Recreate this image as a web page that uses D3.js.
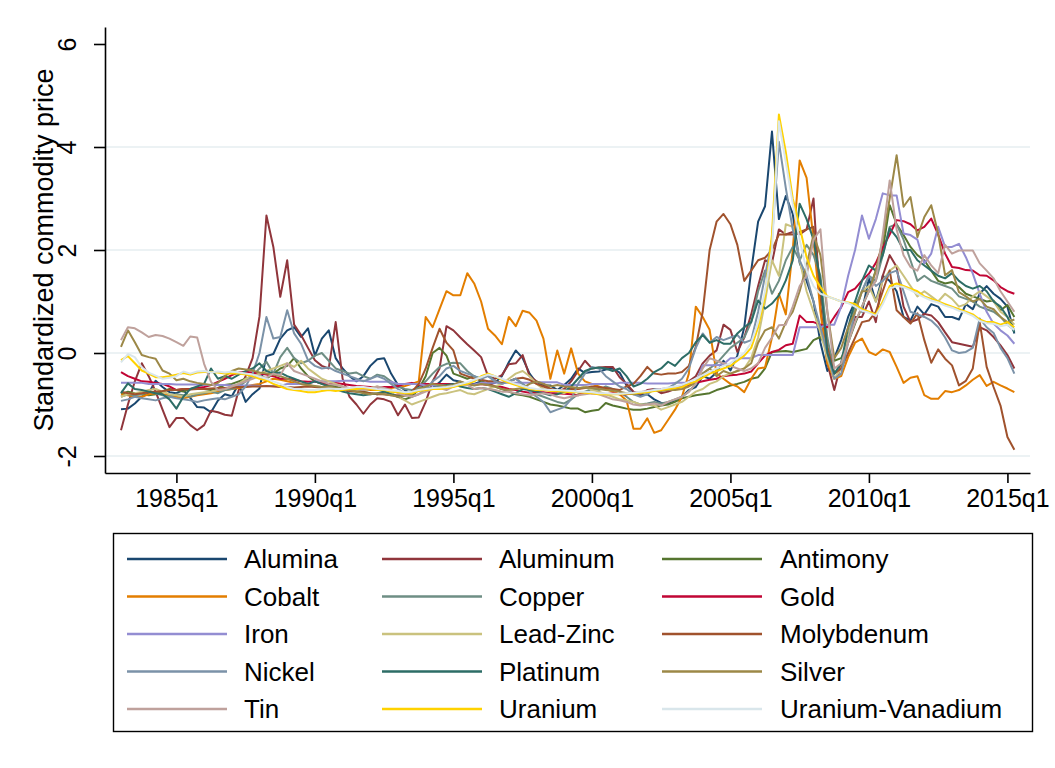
<!DOCTYPE html>
<html>
<head>
<meta charset="utf-8">
<script src="https://cdn.jsdelivr.net/npm/d3@7"></script>
<style>
  body { margin: 0; background: #fff; }
  svg { display: block; }
  text { font-family: "Liberation Sans", Arial, Helvetica, sans-serif; fill: #000; }
</style>
</head>
<body>
<div id="chartArea"></div>
<script>
// quarterly standardized prices, 1983q1 .. 2015q2 (one row = 4 years)
var firstYear = 1983;
var names = ['Alumina','Aluminum','Antimony','Cobalt','Copper','Gold','Iron','Lead-Zinc',
             'Molybdenum','Nickel','Platinum','Silver','Tin','Uranium','Uranium-Vanadium'];
var colors = ['#1a476f','#90353b','#55752f','#e37e00','#6e8e84','#c10534','#938dd2','#cac27e',
              '#a0522d','#7b92a8','#2d6d66','#9c8847','#bfa19c','#ffd200','#d9e6eb'];
var tickLabels = ['1985q1','1990q1','1995q1','2000q1','2005q1','2010q1','2015q1'];
var yTicks = [-2, 0, 2, 4, 6];
var gridTicks = [-2, 0, 2, 4];

var alumina = [
  -1.09,-1.08,-0.98,-0.85, -0.78,-0.54,-0.66,-0.76, -0.78,-0.72,-0.87,-1.05, -1.06,-1.15,-0.92,-0.80,
  -0.84,-0.60,-0.95,-0.80, -0.69,-0.06,-0.02,0.28, 0.44,0.50,0.31,0.48, -0.05,0.28,0.44,-0.10,
  -0.30,-0.45,-0.55,-0.45, -0.25,-0.12,-0.10,-0.40, -0.62,-0.72,-0.80,-0.62, -0.69,-0.68,-0.57,-0.42,
  -0.53,-0.56,-0.60,-0.60, -0.55,-0.60,-0.58,-0.45, -0.18,0.05,-0.10,-0.40, -0.58,-0.63,-0.63,-0.72,
  -0.62,-0.50,-0.30,-0.39, -0.37,-0.36,-0.32,-0.30, -0.38,-0.63,-0.76,-0.82, -0.80,-0.90,-0.97,-0.97,
  -0.92,-0.85,-0.72,-0.66, -0.45,-0.50,-0.38,-0.15, -0.34,-0.05,0.50,1.60, 2.55,2.85,4.30,2.60,
  3.05,2.70,1.75,1.40, 1.00,0.20,-0.35,-0.10, 0.25,0.70,1.00,0.80, 1.45,1.00,1.50,1.40,
  1.20,0.70,0.63,0.90, 0.75,0.95,0.90,0.70, 0.70,0.65,0.95,0.85, 1.15,1.30,1.15,1.05,
  0.90,0.38];
var aluminum = [
  -1.50,-1.00,-0.55,-0.20, -0.45,-0.75,-1.10,-1.44, -1.26,-1.26,-1.40,-1.50, -1.40,-1.12,-1.15,-1.20,
  -1.22,-0.72,-0.45,-0.10, 0.71,2.67,2.06,1.09, 1.80,0.55,0.35,0.10, -0.14,-0.25,-0.30,0.60,
  -0.50,-0.85,-1.00,-1.18, -1.00,-0.88,-0.90,-0.95, -1.21,-1.00,-1.26,-1.25, -0.95,-0.55,-0.30,0.52,
  0.44,0.30,0.17,0.05, -0.08,-0.45,-0.50,-0.43, -0.22,-0.20,-0.04,-0.45, -0.55,-0.60,-0.70,-0.75,
  -0.70,-0.55,-0.35,-0.15, -0.30,-0.28,-0.27,-0.27, -0.47,-0.60,-0.75,-0.80, -0.72,-0.70,-0.78,-0.75,
  -0.70,-0.65,-0.55,-0.45, -0.20,-0.05,0.05,0.55, 0.45,0.02,0.30,0.75, 1.30,1.80,1.75,2.40,
  2.30,2.35,2.30,2.40, 3.00,0.90,-0.20,-0.72, -0.20,0.30,0.70,0.70, 1.00,0.60,1.50,1.90,
  1.67,0.90,0.60,0.65, 0.76,0.73,0.60,0.40, 0.21,0.18,0.15,0.12, 0.50,0.44,0.31,0.15,
  -0.04,-0.30];
var antimony = [
  -0.80,-0.75,-0.78,-0.80, -0.82,-0.80,-0.75,-0.70, -0.72,-0.75,-0.70,-0.68, -0.70,-0.72,-0.68,-0.62,
  -0.60,-0.55,-0.50,-0.45, -0.45,-0.50,-0.40,-0.30, -0.25,-0.10,-0.30,-0.45, -0.55,-0.60,-0.62,-0.65,
  -0.70,-0.68,-0.72,-0.75, -0.78,-0.80,-0.75,-0.78, -0.85,-0.90,-0.85,-0.70, -0.45,0.00,0.10,-0.05,
  -0.40,-0.45,-0.50,-0.45, -0.55,-0.60,-0.65,-0.70, -0.75,-0.80,-0.82,-0.85, -0.90,-0.95,-1.00,-1.02,
  -1.05,-1.08,-1.08,-1.15, -1.12,-1.10,-0.97,-1.02, -1.05,-1.08,-1.10,-1.10, -1.08,-1.05,-1.02,-1.00,
  -0.95,-0.88,-0.85,-0.82, -0.80,-0.78,-0.72,-0.68, -0.63,-0.60,-0.56,-0.50, -0.47,-0.30,0.02,0.03,
  0.04,0.02,0.05,0.08, 0.25,0.31,0.10,-0.15, -0.10,0.20,0.57,0.90, 1.20,1.60,2.00,2.87,
  2.50,2.29,2.06,1.90, 1.80,1.60,1.40,1.35, 1.38,1.28,1.15,1.10, 1.05,1.00,1.02,0.83,
  0.93,0.70];
var cobalt = [
  -0.80,-0.82,-0.85,-0.85, -0.80,-0.78,-0.80,-0.82, -0.85,-0.88,-0.85,-0.82, -0.80,-0.78,-0.75,-0.72,
  -0.70,-0.68,-0.65,-0.62, -0.60,-0.55,-0.50,-0.52, -0.55,-0.58,-0.60,-0.62, -0.65,-0.66,-0.68,-0.70,
  -0.72,-0.70,-0.68,-0.70, -0.72,-0.72,-0.70,-0.68, -0.66,-0.64,-0.60,-0.55, 0.70,0.50,0.85,1.20,
  1.12,1.12,1.55,1.35, 1.00,0.47,0.34,0.17, 0.70,0.52,0.82,0.78, 0.63,0.28,-0.50,0.05,
  -0.40,0.09,-0.40,-0.55, -0.60,-0.65,-0.70,-0.75, -0.80,-0.92,-1.47,-1.47, -1.27,-1.55,-1.50,-1.30,
  -1.10,-0.85,-0.40,0.90, 0.70,0.45,-0.40,-0.50, -0.60,-0.65,-0.76,-0.50, -0.30,-0.28,0.30,1.15,
  0.75,2.00,3.74,3.40, 2.20,0.80,-0.20,-0.50, -0.45,-0.08,0.20,0.28, 0.02,-0.04,0.07,0.02,
  -0.27,-0.58,-0.48,-0.45, -0.82,-0.89,-0.89,-0.74, -0.76,-0.72,-0.63,-0.52, -0.43,-0.64,-0.56,-0.63,
  -0.69,-0.76];
var copper = [
  -0.85,-0.80,-0.82,-0.80, -0.75,-0.78,-0.82,-0.85, -0.80,-0.82,-0.85,-0.80, -0.78,-0.75,-0.78,-0.72,
  -0.70,-0.65,-0.55,-0.45, -0.30,-0.17,-0.40,-0.08, 0.10,-0.10,-0.20,-0.15, -0.05,0.00,-0.15,-0.30,
  -0.35,-0.40,-0.38,-0.45, -0.50,-0.42,-0.45,-0.55, -0.65,-0.70,-0.72,-0.68, -0.55,-0.40,-0.27,-0.21,
  -0.19,-0.20,-0.35,-0.45, -0.50,-0.42,-0.55,-0.60, -0.55,-0.50,-0.60,-0.70, -0.80,-0.85,-0.90,-0.95,
  -0.98,-0.90,-0.80,-0.75, -0.70,-0.72,-0.65,-0.70, -0.75,-0.85,-0.95,-1.00, -0.98,-0.95,-0.98,-0.95,
  -0.90,-0.85,-0.75,-0.60, -0.40,-0.30,-0.20,-0.05, 0.10,0.20,0.30,0.60, 1.20,1.60,1.15,1.40,
  1.80,2.06,1.80,2.10, 1.90,1.50,0.30,-0.40, -0.30,0.30,0.90,1.20, 1.50,1.40,1.90,2.45,
  2.50,2.20,1.80,1.40, 1.50,1.40,1.35,1.30, 1.25,1.10,1.05,1.00, 0.90,0.85,0.80,0.70,
  0.55,0.45];
var gold = [
  -0.37,-0.45,-0.50,-0.55, -0.56,-0.58,-0.60,-0.65, -0.72,-0.70,-0.70,-0.68, -0.66,-0.62,-0.56,-0.50,
  -0.43,-0.38,-0.37,-0.38, -0.40,-0.42,-0.45,-0.50, -0.50,-0.52,-0.55,-0.56, -0.56,-0.58,-0.60,-0.58,
  -0.60,-0.62,-0.64,-0.65, -0.66,-0.68,-0.66,-0.66, -0.64,-0.60,-0.58,-0.62, -0.60,-0.60,-0.60,-0.60,
  -0.60,-0.60,-0.60,-0.62, -0.60,-0.62,-0.64,-0.66, -0.70,-0.72,-0.75,-0.77, -0.76,-0.76,-0.78,-0.78,
  -0.79,-0.80,-0.82,-0.76, -0.78,-0.78,-0.80,-0.78, -0.80,-0.80,-0.78,-0.76, -0.74,-0.72,-0.70,-0.69,
  -0.68,-0.66,-0.62,-0.58, -0.55,-0.52,-0.50,-0.45, -0.43,-0.42,-0.40,-0.36, -0.20,-0.05,0.02,0.06,
  0.15,0.18,0.73,0.60, 0.60,0.55,0.50,0.70, 0.89,1.18,1.25,1.41, 1.54,1.75,2.05,2.30,
  2.58,2.56,2.50,2.38, 2.45,2.61,2.30,1.93, 1.67,1.65,1.61,1.60, 1.51,1.50,1.41,1.28,
  1.20,1.15];
var iron = [
  -0.58,-0.58,-0.58,-0.58, -0.60,-0.60,-0.60,-0.60, -0.61,-0.61,-0.61,-0.61, -0.62,-0.62,-0.62,-0.62,
  -0.63,-0.63,-0.63,-0.63, -0.64,-0.64,-0.64,-0.64, -0.60,-0.60,-0.60,-0.60, -0.55,-0.55,-0.55,-0.55,
  -0.54,-0.54,-0.54,-0.54, -0.56,-0.56,-0.56,-0.56, -0.60,-0.60,-0.60,-0.60, -0.63,-0.63,-0.63,-0.63,
  -0.61,-0.61,-0.61,-0.61, -0.58,-0.58,-0.58,-0.58, -0.58,-0.58,-0.58,-0.58, -0.57,-0.57,-0.57,-0.57,
  -0.62,-0.62,-0.62,-0.62, -0.60,-0.60,-0.60,-0.60, -0.58,-0.58,-0.58,-0.58, -0.59,-0.59,-0.59,-0.59,
  -0.58,-0.58,-0.58,-0.58, -0.24,-0.24,-0.24,-0.22, -0.10,-0.10,-0.10,-0.10, -0.04,-0.04,-0.04,-0.04,
  -0.04,-0.04,0.50,0.50, 0.50,0.50,0.55,0.55, 0.90,1.50,2.00,2.67, 2.22,2.60,3.10,3.06,
  3.06,2.32,2.29,2.20, 1.74,1.93,2.45,2.06, 2.06,2.12,1.86,1.54, 1.15,0.80,0.57,0.44,
  0.34,0.18];
var leadZinc = [
  -0.85,-0.80,-0.78,-0.75, -0.72,-0.70,-0.75,-0.80, -0.82,-0.85,-0.80,-0.78, -0.76,-0.75,-0.72,-0.70,
  -0.65,-0.60,-0.50,-0.45, -0.40,-0.35,-0.30,-0.25, -0.20,-0.27,-0.15,-0.30, -0.40,-0.50,-0.55,-0.60,
  -0.65,-0.70,-0.72,-0.70, -0.68,-0.65,-0.70,-0.78, -0.85,-0.92,-1.00,-0.95, -0.90,-0.85,-0.80,-0.78,
  -0.75,-0.72,-0.78,-0.80, -0.75,-0.70,-0.65,-0.60, -0.50,-0.40,-0.35,-0.45, -0.60,-0.70,-0.72,-0.75,
  -0.78,-0.72,-0.70,-0.65, -0.72,-0.75,-0.80,-0.85, -0.90,-0.92,-0.95,-1.00, -1.00,-1.02,-1.10,-1.05,
  -1.00,-0.95,-0.85,-0.75, -0.70,-0.60,-0.55,-0.45, -0.40,-0.35,-0.30,-0.10, 0.30,1.00,1.80,1.50,
  2.50,2.45,1.80,1.20, 0.80,0.40,-0.10,-0.50, -0.30,0.30,0.80,1.20, 1.30,1.00,1.40,1.60,
  1.70,1.50,1.30,1.10, 1.20,1.10,1.00,1.15, 1.05,0.90,0.95,1.10, 1.20,1.10,1.00,0.80,
  0.70,0.55];
var molybdenum = [
  -0.75,-0.78,-0.80,-0.78, -0.76,-0.75,-0.74,-0.72, -0.72,-0.70,-0.71,-0.70, -0.70,-0.69,-0.68,-0.68,
  -0.67,-0.66,-0.66,-0.65, -0.65,-0.64,-0.65,-0.66, -0.66,-0.67,-0.66,-0.65, -0.66,-0.67,-0.68,-0.70,
  -0.72,-0.74,-0.75,-0.76, -0.78,-0.80,-0.80,-0.82, -0.82,-0.80,-0.75,-0.60, -0.30,0.10,0.47,0.20,
  0.05,-0.40,-0.45,-0.50, -0.52,-0.55,-0.55,-0.58, -0.55,-0.50,-0.48,-0.52, -0.60,-0.65,-0.70,-0.72,
  -0.72,-0.70,-0.70,-0.68, -0.65,-0.66,-0.68,-0.70, -0.72,-0.65,-0.60,-0.45, -0.27,-0.40,-0.42,-0.40,
  -0.40,-0.37,-0.25,0.12, 0.80,2.00,2.55,2.70, 2.50,2.10,1.40,1.60, 1.80,1.85,2.00,2.30,
  2.30,2.30,2.35,2.40, 2.45,1.20,0.10,-0.40, -0.30,0.00,0.30,0.60, 0.63,0.80,1.20,1.60,
  0.83,0.70,0.57,0.77, 0.25,-0.19,0.07,-0.11, -0.24,-0.63,-0.54,-0.30, 0.60,-0.27,-0.66,-1.02,
  -1.63,-1.88];
var nickel = [
  -0.93,-0.90,-0.85,-0.88, -0.90,-0.92,-0.88,-0.85, -0.88,-0.90,-0.92,-0.95, -0.92,-0.90,-0.88,-0.90,
  -0.85,-0.80,-0.65,-0.40, 0.00,0.70,0.28,0.31, 0.83,0.38,0.18,-0.14, -0.25,-0.30,-0.28,-0.35,
  -0.40,-0.45,-0.50,-0.55, -0.50,-0.45,-0.50,-0.60, -0.70,-0.78,-0.85,-0.80, -0.70,-0.55,-0.45,-0.30,
  -0.25,-0.35,-0.40,-0.45, -0.50,-0.45,-0.55,-0.60, -0.55,-0.50,-0.60,-0.75, -0.85,-0.95,-1.15,-1.10,
  -1.05,-0.90,-0.60,-0.40, -0.27,-0.30,-0.45,-0.55, -0.65,-0.70,-0.80,-0.85, -0.80,-0.70,-0.72,-0.68,
  -0.60,-0.50,-0.30,0.10, 0.38,0.20,0.31,0.25, 0.30,0.35,0.20,0.25, 0.80,1.50,2.20,4.10,
  3.20,2.40,1.80,1.50, 1.00,0.50,0.00,-0.50, -0.40,0.20,0.80,1.20, 1.50,1.30,1.40,1.55,
  1.60,1.20,0.80,0.75, 0.70,0.63,0.50,0.30, 0.05,0.00,0.02,0.10, 0.67,0.50,0.39,0.10,
  -0.10,-0.40];
var platinum = [
  -0.78,-0.59,-0.70,-0.72, -0.75,-0.78,-0.80,-0.90, -1.08,-0.85,-0.70,-0.65, -0.60,-0.30,-0.50,-0.45,
  -0.50,-0.42,-0.35,-0.30, -0.20,-0.35,-0.40,-0.38, -0.45,-0.50,-0.55,-0.60, -0.55,-0.60,-0.65,-0.70,
  -0.75,-0.78,-0.80,-0.82, -0.80,-0.78,-0.75,-0.80, -0.85,-0.80,-0.75,-0.72, -0.70,-0.68,-0.65,-0.62,
  -0.60,-0.65,-0.68,-0.70, -0.68,-0.70,-0.75,-0.80, -0.85,-0.78,-0.70,-0.72, -0.75,-0.78,-0.82,-0.80,
  -0.75,-0.65,-0.50,-0.35, -0.30,-0.28,-0.30,-0.35, -0.30,-0.45,-0.65,-0.60, -0.50,-0.37,-0.30,-0.17,
  -0.25,-0.10,0.00,0.21, 0.35,0.20,0.25,0.18, 0.18,0.38,0.50,0.60, 1.02,0.86,0.96,1.12,
  1.41,1.80,2.90,2.60, 2.20,1.40,0.00,-0.40, -0.20,0.50,1.00,1.40, 1.70,1.60,1.90,2.42,
  2.25,2.00,2.00,1.80, 1.70,1.60,1.50,1.45, 1.55,1.40,1.30,1.25, 1.30,1.20,1.00,0.90,
  0.70,0.40];
var silver = [
  0.12,0.44,0.21,-0.04, -0.08,-0.11,-0.34,-0.40, -0.53,-0.50,-0.55,-0.58, -0.60,-0.62,-0.58,-0.45,
  -0.35,-0.30,-0.32,-0.34, -0.38,-0.40,-0.42,-0.45, -0.50,-0.55,-0.60,-0.62, -0.64,-0.66,-0.65,-0.68,
  -0.70,-0.72,-0.75,-0.78, -0.80,-0.78,-0.80,-0.82, -0.85,-0.83,-0.80,-0.70, -0.65,-0.60,-0.62,-0.64,
  -0.62,-0.55,-0.60,-0.63, -0.60,-0.62,-0.65,-0.70, -0.72,-0.70,-0.68,-0.60, -0.55,-0.60,-0.65,-0.62,
  -0.65,-0.66,-0.68,-0.67, -0.68,-0.70,-0.72,-0.73, -0.75,-0.78,-0.80,-0.78, -0.75,-0.72,-0.74,-0.72,
  -0.72,-0.70,-0.65,-0.58, -0.40,-0.30,-0.45,-0.35, -0.40,-0.35,-0.30,-0.20, 0.20,0.44,0.50,0.28,
  0.60,0.80,1.20,1.70, 2.30,1.90,0.80,-0.10, 0.10,0.50,0.80,1.20, 1.20,1.60,2.20,3.00,
  3.84,2.84,3.03,2.25, 2.64,2.87,2.32,1.51, 1.61,1.18,1.10,1.00, 1.05,0.90,0.85,0.70,
  0.60,0.65];
var tin = [
  0.25,0.50,0.48,0.40, 0.31,0.35,0.33,0.28, 0.21,0.14,0.32,0.30, -0.21,-0.56,-0.72,-0.70,
  -0.65,-0.60,-0.55,-0.50, -0.45,-0.48,-0.40,-0.43, -0.20,-0.35,-0.40,-0.45, -0.50,-0.55,-0.60,-0.62,
  -0.65,-0.68,-0.70,-0.72, -0.70,-0.65,-0.68,-0.72, -0.78,-0.82,-0.85,-0.80, -0.75,-0.70,-0.68,-0.72,
  -0.65,-0.60,-0.62,-0.70, -0.68,-0.70,-0.72,-0.75, -0.75,-0.78,-0.80,-0.82, -0.80,-0.78,-0.80,-0.85,
  -0.88,-0.85,-0.82,-0.80, -0.78,-0.80,-0.85,-0.90, -0.92,-0.95,-1.00,-1.02, -1.00,-0.98,-1.02,-0.95,
  -0.90,-0.85,-0.75,-0.60, -0.30,-0.10,-0.15,-0.20, -0.25,-0.30,-0.35,-0.30, -0.20,0.10,0.30,0.54,
  0.55,0.90,1.30,1.50, 2.20,2.40,0.80,-0.30, -0.20,0.20,0.60,0.90, 1.20,1.40,2.30,3.35,
  2.40,1.90,1.67,1.60, 1.90,1.70,1.55,2.10, 1.93,1.99,1.99,1.99, 1.74,1.60,1.45,1.20,
  1.00,0.80];
var uranium = [
  -0.14,-0.06,-0.20,-0.34, -0.40,-0.47,-0.47,-0.45, -0.42,-0.39,-0.42,-0.38, -0.37,-0.37,-0.38,-0.40,
  -0.40,-0.40,-0.42,-0.45, -0.50,-0.53,-0.60,-0.65, -0.70,-0.72,-0.74,-0.76, -0.76,-0.74,-0.72,-0.74,
  -0.72,-0.70,-0.70,-0.68, -0.70,-0.72,-0.72,-0.75, -0.76,-0.78,-0.78,-0.74, -0.72,-0.70,-0.70,-0.68,
  -0.66,-0.62,-0.60,-0.55, -0.45,-0.40,-0.45,-0.52, -0.58,-0.62,-0.66,-0.70, -0.72,-0.72,-0.74,-0.74,
  -0.75,-0.76,-0.76,-0.77, -0.78,-0.80,-0.80,-0.80, -0.80,-0.79,-0.78,-0.77, -0.76,-0.74,-0.72,-0.70,
  -0.68,-0.66,-0.60,-0.55, -0.48,-0.40,-0.35,-0.30, -0.25,-0.15,-0.05,0.10, 0.50,1.10,2.30,4.63,
  3.90,3.00,2.45,1.86, 1.50,1.28,1.10,1.05, 1.00,0.98,0.95,0.85, 0.80,0.75,1.00,1.30,
  1.35,1.30,1.25,1.20, 1.10,1.05,1.00,0.95, 0.90,0.85,0.80,0.75, 0.65,0.60,0.60,0.55,
  0.60,0.50];
var uraniumVanadium = [
  -0.18,-0.02,-0.08,-0.28, -0.38,-0.44,-0.50,-0.48, -0.45,-0.36,-0.40,-0.36, -0.35,-0.38,-0.36,-0.38,
  -0.36,-0.38,-0.40,-0.42, -0.46,-0.50,-0.55,-0.60, -0.66,-0.70,-0.70,-0.72, -0.72,-0.70,-0.69,-0.70,
  -0.70,-0.68,-0.66,-0.66, -0.68,-0.70,-0.71,-0.73, -0.74,-0.76,-0.75,-0.72, -0.70,-0.68,-0.67,-0.66,
  -0.64,-0.60,-0.57,-0.52, -0.47,-0.42,-0.45,-0.50, -0.55,-0.60,-0.64,-0.68, -0.70,-0.71,-0.72,-0.72,
  -0.73,-0.74,-0.75,-0.75, -0.76,-0.78,-0.78,-0.79, -0.79,-0.78,-0.77,-0.75, -0.74,-0.72,-0.70,-0.67,
  -0.65,-0.62,-0.56,-0.50, -0.43,-0.36,-0.30,-0.25, -0.20,-0.10,0.00,0.20, 0.60,1.20,2.00,4.50,
  3.70,2.90,2.20,1.60, 1.30,1.15,1.10,1.05, 1.00,0.97,0.90,0.82, 0.78,0.72,0.95,1.25,
  1.30,1.28,1.22,1.15, 1.08,1.02,0.98,0.92, 0.88,0.82,0.78,0.72, 0.62,0.58,0.57,0.52,
  0.55,0.45];

var series = [alumina, aluminum, antimony, cobalt, copper, gold, iron, leadZinc,
              molybdenum, nickel, platinum, silver, tin, uranium, uraniumVanadium];

function quarterIndex(label) {
    var year = +label.slice(0, 4), q = +label.slice(5);
    return (year - firstYear) * 4 + (q - 1);
}

function chart_lines() {
    var width = 1055, height = 768;
    var plot = {left: 105, right: 1030, top: 27, bottom: 473};

    var xscale = d3.scaleLinear().domain([-2.31, 131.26]).range([plot.left, plot.right]);
    var yscale = d3.scaleLinear().domain([-2.33, 6.33]).range([plot.bottom, plot.top]);

    var svg = d3.select('#chartArea').append('svg')
                .attr('width', width)
                .attr('height', height);
    svg.append('rect').attr('width', width).attr('height', height).attr('fill', '#fff');

    // horizontal grid (none at the top tick)
    svg.append('g').selectAll('line').data(gridTicks).enter().append('line')
        .attr('x1', plot.left).attr('x2', plot.right)
        .attr('y1', function(d){ return yscale(d); })
        .attr('y2', function(d){ return yscale(d); })
        .attr('stroke', '#e6eef1')
        .attr('stroke-width', 1.6);

    var line = d3.line()
        .x(function(d, i){ return xscale(i); })
        .y(function(d){ return yscale(d); });

    svg.append('g').selectAll('path').data(series).enter().append('path')
        .attr('d', line)
        .attr('fill', 'none')
        .attr('stroke', function(d, i){ return colors[i]; })
        .attr('stroke-width', 2)
        .attr('stroke-linejoin', 'round');

    // y axis
    var yAxis = svg.append('g')
        .attr('transform', 'translate(' + plot.left + ',0)')
        .call(d3.axisLeft(yscale).tickValues(yTicks).tickSize(11).tickSizeOuter(0)
              .tickFormat(d3.format('d')));
    yAxis.select('.domain').attr('stroke', '#000').attr('stroke-width', 1.6);
    yAxis.selectAll('.tick line').attr('stroke', '#000').attr('stroke-width', 1.6);
    yAxis.selectAll('.tick text')
        .attr('transform', 'rotate(-90)')
        .attr('x', 0).attr('y', -29).attr('dy', 0)
        .attr('text-anchor', 'middle')
        .style('font-size', '25px')
        .text(function(d){ return d < 0 ? '-' + Math.abs(d) : d; });

    // x axis
    var xAxis = svg.append('g')
        .attr('transform', 'translate(0,' + plot.bottom + ')')
        .call(d3.axisBottom(xscale).tickValues(tickLabels.map(quarterIndex)).tickSize(10)
              .tickSizeOuter(0)
              .tickFormat(function(d, i){ return tickLabels[i]; }));
    xAxis.select('.domain').attr('stroke', '#000').attr('stroke-width', 1.6);
    xAxis.selectAll('.tick line').attr('stroke', '#000').attr('stroke-width', 1.6);
    xAxis.selectAll('.tick text')
        .attr('y', 34).attr('dy', 0)
        .style('font-size', '25px');

    svg.selectAll('.tick text').style('fill', '#000').attr('font-family', null);
    svg.selectAll('g').attr('font-family', null);

    svg.append('text')
        .attr('transform', 'translate(53,' + ((plot.top + plot.bottom) / 2) + ') rotate(-90)')
        .attr('text-anchor', 'middle')
        .style('font-size', '27px')
        .text('Standardized commodity price');

    // legend
    var legend = svg.append('g');
    legend.append('rect')
        .attr('x', 113.5).attr('y', 533.5)
        .attr('width', 919).attr('height', 198)
        .attr('fill', '#fff')
        .attr('stroke', '#000')
        .attr('stroke-width', 1.4);
    var colLine = [127, 382, 662], colText = [244, 499, 780];
    var items = legend.selectAll('g.item').data(names).enter().append('g')
        .attr('class', 'item')
        .attr('transform', function(d, i){
            return 'translate(0,' + (559 + Math.floor(i / 3) * 37.5) + ')';
        });
    items.append('line')
        .attr('x1', function(d, i){ return colLine[i % 3]; })
        .attr('x2', function(d, i){ return colLine[i % 3] + 100; })
        .attr('stroke', function(d, i){ return colors[i]; })
        .attr('stroke-width', 2.6);
    items.append('text')
        .attr('x', function(d, i){ return colText[i % 3]; })
        .attr('y', 9)
        .style('font-size', '26px')
        .text(function(d){ return d; });
}

chart_lines();
</script>
</body>
</html>
